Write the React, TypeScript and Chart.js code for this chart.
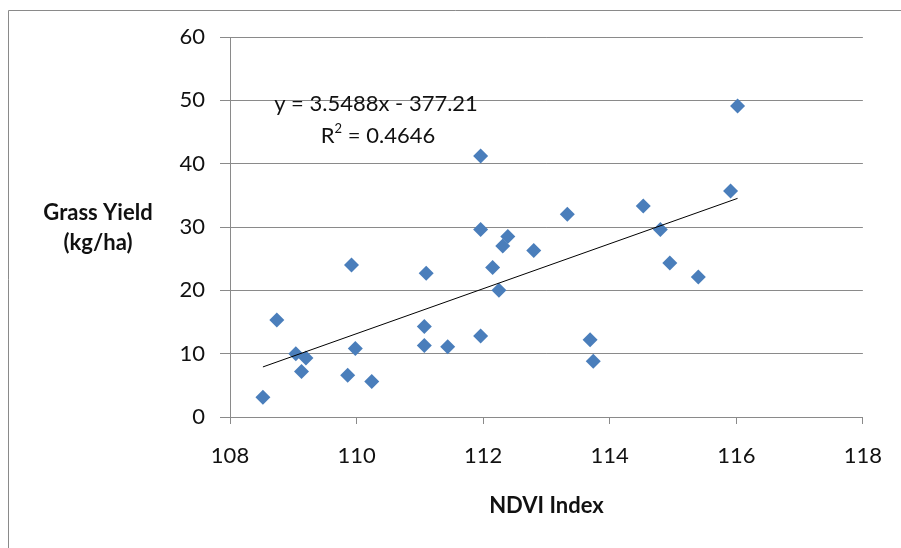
import React, { useEffect, useRef } from "react";
import { Chart, registerables } from "chart.js";

Chart.register(...registerables);

const ndvi = [108.52, 108.74, 109.04, 109.2, 109.13, 109.86, 109.92, 109.98, 110.24, 111.1, 111.07, 111.07, 111.44, 111.96, 111.96, 111.96, 112.15, 112.25, 112.31, 112.39, 112.8, 113.33, 113.69, 113.74, 114.53, 114.8, 114.95, 115.4, 115.91, 116.02];
const grassYield = [3.1, 15.3, 10.0, 9.3, 7.2, 6.6, 24.0, 10.8, 5.6, 22.7, 14.3, 11.3, 11.1, 41.2, 29.6, 12.8, 23.6, 20.0, 27.0, 28.5, 26.3, 32.0, 12.2, 8.8, 33.3, 29.6, 24.3, 22.1, 35.7, 49.1];
const trendSlope = 3.5488;
const trendIntercept = -377.21;
const equationLabel = "y = 3.5488x - 377.21";
const r2Label = "0.4646";
const xTitle = "NDVI Index";
const yTitleLines = ["Grass Yield", "(kg/ha)"];

const FONT = "Lato, 'Open Sans', sans-serif";

const annotations = {
  id: "annotations",
  beforeDraw(chart: any) {
    const ctx = chart.ctx;
    ctx.save();
    ctx.strokeStyle = "#8a8a8a";
    ctx.lineWidth = 1;
    ctx.beginPath();
    ctx.moveTo(8.5, 560);
    ctx.lineTo(8.5, 10.5);
    ctx.lineTo(910, 10.5);
    ctx.stroke();
    ctx.restore();
  },
  afterDraw(chart: any) {
    const ctx = chart.ctx;
    const area = chart.chartArea;
    ctx.save();
    ctx.fillStyle = "#111111";
    ctx.textAlign = "center";
    ctx.textBaseline = "middle";
    ctx.font = `bold 22px ${FONT}`;
    ctx.fillText(yTitleLines[0], 98, 213);
    ctx.fillText(yTitleLines[1], 98, 243);
    ctx.fillText(xTitle, (area.left + area.right) / 2, 506);
    ctx.font = `22px ${FONT}`;
    ctx.fillText(equationLabel, 376, 104);
    const rPrefix = "R";
    const rSuffix = " = " + r2Label;
    ctx.textAlign = "left";
    const w1 = ctx.measureText(rPrefix).width;
    ctx.font = `13px ${FONT}`;
    const w2 = ctx.measureText("2").width;
    ctx.font = `22px ${FONT}`;
    const w3 = ctx.measureText(rSuffix).width;
    const total = w1 + w2 + w3;
    let x = 378 - total / 2;
    ctx.fillText(rPrefix, x, 136);
    x += w1;
    ctx.font = `13px ${FONT}`;
    ctx.fillText("2", x, 129);
    x += w2;
    ctx.font = `22px ${FONT}`;
    ctx.fillText(rSuffix, x, 136);
    ctx.restore();
  },
};

export default function App() {
  const ref = useRef<HTMLCanvasElement>(null);
  useEffect(() => {
    document.body.style.margin = "0";
    const xMin = Math.min(...ndvi);
    const xMax = Math.max(...ndvi);
    const chart = new Chart(ref.current!, {
      type: "scatter",
      data: {
        datasets: [
          {
            type: "line",
            data: [
              { x: xMin, y: trendSlope * xMin + trendIntercept },
              { x: xMax, y: trendSlope * xMax + trendIntercept },
            ],
            borderColor: "#000000",
            borderWidth: 1,
            pointRadius: 0,
            fill: false,
          } as any,
          {
            data: ndvi.map((x, i) => ({ x, y: grassYield[i] })),
            pointStyle: "rectRot",
            pointRadius: 7.5,
            backgroundColor: "#4a7ebb",
            borderColor: "#4a7ebb",
            borderWidth: 0,
          },
        ],
      },
      plugins: [annotations],
      options: {
        animation: false,
        responsive: false,
        maintainAspectRatio: false,
        layout: { padding: { left: 170, right: 36, top: 37, bottom: 51 } },
        plugins: { legend: { display: false }, tooltip: { enabled: false } },
        scales: {
          x: {
            type: "linear",
            min: 108,
            max: 118,
            ticks: { stepSize: 2, color: "#111111", font: { family: FONT, size: 22 }, padding: 19 },
            grid: { drawOnChartArea: false, drawTicks: true, tickLength: 7, color: "#8a8a8a" },
            border: { display: true, color: "#8a8a8a" },
            afterFit(scale: any) { scale.height = 80; },
          },
          y: {
            min: 0,
            max: 60,
            ticks: { stepSize: 10, color: "#111111", font: { family: FONT, size: 22 }, padding: 15 },
            grid: { drawOnChartArea: true, drawTicks: true, tickLength: 10, color: "#8a8a8a" },
            border: { display: true, color: "#8a8a8a" },
            afterFit(scale: any) { scale.width = 60; },
          },
        },
      },
    });
    return () => chart.destroy();
  }, []);
  return (
    <div style={{ position: "relative", width: 901, height: 548, background: "#fff" }}>
      <canvas ref={ref} width={901} height={548} style={{ display: "block" }} />
    </div>
  );
}
